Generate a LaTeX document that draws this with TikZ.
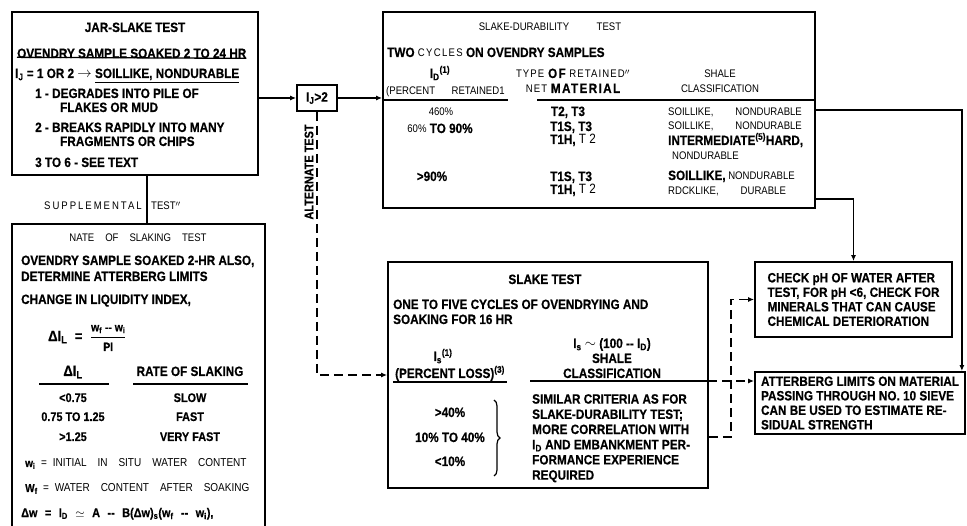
\documentclass[tikz,border=0pt]{standalone}
\usepackage{fontspec}
\usepackage{amsmath}
\newfontfamily\rpt{Liberation Sans}[FakeStretch=0.87, BoldFeatures={FakeBold=0.5}]
\newcommand\widegaps{\spaceskip 0.95em\relax}
\usetikzlibrary{arrows.meta,decorations.pathreplacing}

\begin{document}
\begin{tikzpicture}[x=1pt, y=-1pt,
    font=\rpt,
    box/.style={draw, line width=1.8pt, inner sep=0pt},
    bf/.style={inner sep=0pt, font=\rpt\bfseries\fontsize{13.5}{14.5}\selectfont},
    bfs/.style={inner sep=0pt, font=\rpt\bfseries\fontsize{12.5}{13.5}\selectfont},
    md/.style={inner sep=0pt, font=\rpt\fontsize{11}{12.5}\selectfont},
    wide/.style={inner sep=0pt, font=\rpt\fontsize{11.5}{12.5}\selectfont\widegaps},
    rule/.style={line width=1.3pt},
    arrow/.style={line width=1.8pt, -{Latex[length=6pt,width=5pt]}},
    dasharrow/.style={arrow, dash pattern=on 9pt off 5pt}
]
\useasboundingbox (0,0) rectangle (967,526);

% boxes
\node (jar)     [box, minimum width=246, minimum height=163] at (135,93.5) {};
\node (ijbox)   [box, bf, minimum width=40, minimum height=26] at (317,98) {I\textsubscript{J}>2};
\node (durab)   [box, minimum width=432, minimum height=196] at (599,110) {};
\node (slake)   [box, minimum width=320, minimum height=226] at (548,375) {};
\node (checkph) [box, bf, minimum width=197, minimum height=75, align=left] at (853.5,299.5)
    {CHECK pH OF WATER AFTER\\TEST, FOR pH <6, CHECK FOR\\MINERALS THAT CAN CAUSE\\CHEMICAL DETERIORATION};
\node (atter)   [box, bf, minimum width=210, minimum height=62, align=left] at (860,403)
    {ATTERBERG LIMITS ON MATERIAL\\PASSING THROUGH NO. 10 SIEVE\\CAN BE USED TO ESTIMATE RE-\\SIDUAL STRENGTH};
\node (supp)    [inner sep=0pt, minimum width=253, minimum height=302] at (138.5,375) {};
\draw[line width=1.8pt] (supp.south west) |- (supp.north east) -- (supp.south east);

% jar-slake test
\node[bf, anchor=base] at (135,32) {JAR-SLAKE TEST};
\node (ovn) [bf, anchor=base west] at (17,58) {OVENDRY SAMPLE SOAKED 2 TO 24 HR};
\draw[rule] (ovn.south west) ++(0,-1) -- (ovn.south east);
\node[bf, anchor=base west] at (15,78) {I\textsubscript{J} = 1 OR 2 $\rightarrow$ \underline{SOILLIKE, NONDURABLE}};
\node[bf, anchor=base west] at (35,98)  {1 - DEGRADES INTO PILE OF};
\node[bf, anchor=base west] at (60,112) {FLAKES OR MUD};
\node[bf, anchor=base west] at (35,132) {2 - BREAKS RAPIDLY INTO MANY};
\node[bf, anchor=base west] at (60,146) {FRAGMENTS OR CHIPS};
\node[bf, anchor=base west] at (35,167) {3 TO 6 - SEE TEXT};

% slake-durability test
\node[md, anchor=base] at (550,31) {SLAKE-DURABILITY\hspace{2.5em}TEST};
\node[bf, anchor=base west] at (387,57) {TWO {\mdseries\fontsize{11}{12}\selectfont\addfontfeature{LetterSpace=12}CYCLES} ON OVENDRY SAMPLES};
\node[bf, anchor=base] at (440,78) {I\textsubscript{D}\textsuperscript{(1)}};
\node[md, anchor=base west] at (386,95) {(PERCENT\hspace{1.5em}RETAINED1};
\node[md, anchor=base] at (573,78) {\addfontfeature{LetterSpace=10}TYPE {\bfseries\fontsize{13.5}{14}\selectfont OF} RETAINED$''$};
\node[md, anchor=base] at (573,93) {\addfontfeature{LetterSpace=10}NET {\bfseries\fontsize{13.5}{14}\selectfont MATERIAL}};
\node[md, anchor=base] at (720,78) {SHALE};
\node[md, anchor=base] at (720,93) {CLASSIFICATION};
\draw[rule] (383,100) -- (508,100);
\draw[rule] (537,100) -- (815,100);
\node[md, anchor=base] at (441,116) {460\%};
\node[bf, anchor=base] at (568,116) {T2, T3};
\node[md, anchor=base west] at (668,116) {SOILLIKE,\hspace{2em}NONDURABLE};
\node[bf, anchor=base] at (440,133) {{\mdseries\fontsize{11}{12}\selectfont 60\%} TO 90\%};
\node[bf, anchor=base west] at (550,131) {T1S, T3};
\node[bf, anchor=base west] at (550,144) {T1H, {\mdseries T 2}};
\node[md, anchor=base west] at (668,130) {SOILLIKE,\hspace{2em}NONDURABLE};
\node[bf, anchor=base west] at (668,145) {INTERMEDIATE\textsuperscript{(5)}HARD,};
\node[md, anchor=base west] at (672,160) {NONDURABLE};
\node[bf, anchor=base] at (432,181) {>90\%};
\node[bf, anchor=base west] at (550,181) {T1S, T3};
\node[bf, anchor=base west] at (550,194) {T1H, {\mdseries T 2}};
\node[md, anchor=base west] at (668,180) {{\bfseries\fontsize{13.5}{14}\selectfont SOILLIKE,} NONDURABLE};
\node[md, anchor=base west] at (668,195) {RDCKLIKE,\hspace{2em}DURABLE};

% slake test
\node[bf, anchor=base] at (545,284) {SLAKE TEST};
\node[bf, anchor=base west] at (393,309) {ONE TO FIVE CYCLES OF OVENDRYING AND};
\node[bf, anchor=base west] at (393,324) {SOAKING FOR 16 HR};
\node[bf, anchor=base] at (612,348) {I\textsubscript{s} $\sim$ (100 -- I\textsubscript{D})};
\node[bf, anchor=base] at (612,363) {SHALE};
\node[bf, anchor=base] at (612,378) {CLASSIFICATION};
\node[bf, anchor=base] at (443,361) {I\textsubscript{s}\textsuperscript{(1)}};
\node[bf, anchor=base] at (450,378) {(PERCENT LOSS)\textsuperscript{(3)}};
\draw[rule] (393,382) -- (507,382);
\draw[rule] (530,381) -- (708,381);
\node[bf, anchor=base] at (450,417) {>40\%};
\node[bf, anchor=base] at (450,442) {10\% TO 40\%};
\node[bf, anchor=base] at (450,466) {<10\%};
\draw[line width=1.2pt, decorate, decoration={brace, amplitude=6pt}] (494,400) -- (494,476);
\node[bf, anchor=north west, align=left, font=\rpt\bfseries\fontsize{13.5}{15.2}\selectfont] at (532,394)
    {SIMILAR CRITERIA AS FOR\\SLAKE-DURABILITY TEST;\\MORE CORRELATION WITH\\I\textsubscript{D} AND EMBANKMENT PER-\\FORMANCE EXPERIENCE\\REQUIRED};

% supplemental test
\node[md, anchor=base east] at (142,210) {\addfontfeature{LetterSpace=18}SUPPLEMENTAL};
\node[md, anchor=base west] at (151,210) {TEST$''$};
\node[md, anchor=base] at (138,242) {NATE\hspace{1em}OF\hspace{1em}SLAKING\hspace{1em}TEST};
\node[bf, anchor=base west] at (21,265) {OVENDRY SAMPLE SOAKED 2-HR ALSO,};
\node[bf, anchor=base west] at (21,281) {DETERMINE ATTERBERG LIMITS};
\node[bf, anchor=base west] at (21,304) {CHANGE IN LIQUIDITY INDEX,};
\node[bf, anchor=west, font=\rpt\bfseries\fontsize{15}{16}\selectfont] at (48,338) {ΔI\textsubscript{L}\enspace=\enspace$\dfrac{\text{\fontsize{12}{13}\selectfont w\textsubscript{f} -- w\textsubscript{i}}}{\text{\fontsize{12}{13}\selectfont PI}}$};
\node[bf, anchor=base, font=\rpt\bfseries\fontsize{15}{16}\selectfont] at (73,376) {ΔI\textsubscript{L}};
\node[bf, anchor=base] at (190,376) {RATE OF SLAKING};
\draw[rule] (39,384) -- (109,384);
\draw[rule] (133,384) -- (248,384);
\node[bfs, anchor=base] at (73,402) {<0.75};
\node[bfs, anchor=base] at (190,402) {SLOW};
\node[bfs, anchor=base] at (73,421) {0.75 TO 1.25};
\node[bfs, anchor=base] at (190,421) {FAST};
\node[bfs, anchor=base] at (73,441) {>1.25};
\node[bfs, anchor=base] at (190,441) {VERY FAST};
\node[wide, anchor=base west] at (25,467) {{\bfseries w\textsubscript{i}}\enspace=\enspace INITIAL IN SITU WATER CONTENT};
\node[wide, anchor=base west] at (25,492) {{\bfseries W\textsubscript{f}}\enspace=\enspace WATER CONTENT AFTER SOAKING};
\node[bfs, anchor=base west, font=\rpt\bfseries\fontsize{12.5}{13.5}\selectfont\spaceskip 0.6em\relax] at (21,517) {Δw = I\textsubscript{D} $\simeq$ A -- B(Δw)\textsubscript{s}(w\textsubscript{f} -- w\textsubscript{i}),};

% connectors
\draw[arrow] (jar.east |- ijbox.west) -- (ijbox.west);
\draw[arrow] (ijbox.east) -- (ijbox.east -| durab.west);
\draw[line width=2pt] ([xshift=12pt]jar.south) -- ++(0,49);
\draw[dasharrow] (ijbox.south) |- (slake.west);
\node (alt) [bfs, rotate=90] at (309,172) {ALTERNATE TEST};
\draw[arrow] ([yshift=-89pt]durab.east) -| (checkph.north);
\draw[arrow] (durab.east) -| ([xshift=-4pt]atter.north east);
\coordinate (hdr) at (708,381);
\draw[dasharrow] (hdr) -- (hdr -| atter.west);
\draw[dasharrow] ([yshift=-62pt]slake.east) -- ++(22,0) |- (checkph.west);

\end{tikzpicture}
\end{document}
